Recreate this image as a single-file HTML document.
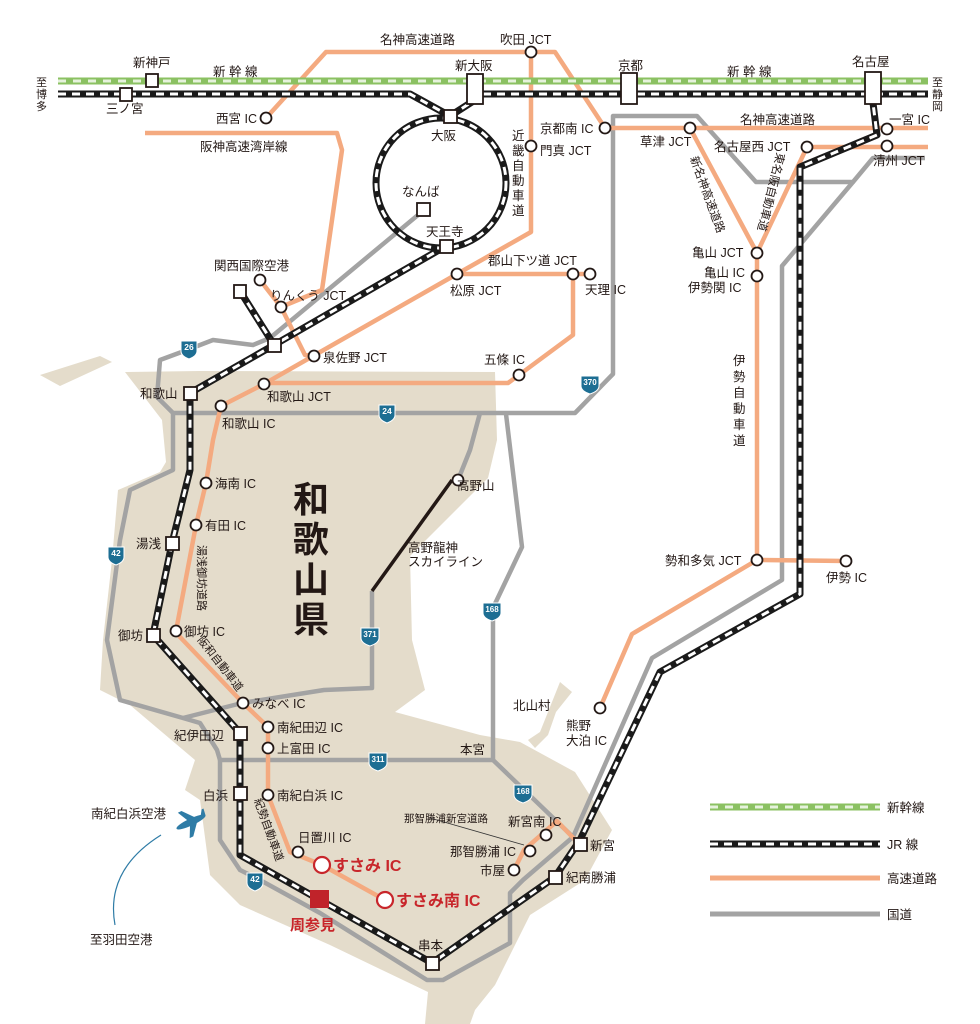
<!DOCTYPE html>
<html><head><meta charset="utf-8"><style>
html,body{margin:0;padding:0;background:#fff;}
svg{display:block;font-size:12.5px;font-family:"Liberation Sans","Noto Sans CJK JP",sans-serif;}
text{fill:#231815;}
</style></head><body>
<svg width="980" height="1024" viewBox="0 0 980 1024" xmlns="http://www.w3.org/2000/svg">
<g fill="#e4dccb">
<path d="M125,372 L200,371 L495,372 L497,440 L488,478 L410,556 L412,640 L425,690 L395,712 L480,735 L520,742 L575,772 L612,830 L585,880 L530,915 L495,985 L475,1010 L470,1024 L425,1024 L428,992 L330,945 L240,905 L210,875 L200,800 L185,790 L195,760 L130,705 L100,690 L103,640 L112,560 L118,490 L160,472 L166,462 L162,420 Z"/>
<path d="M40,375 L100,356 L112,362 L60,386 Z"/>
<path d="M540,732 L560,682 L572,692 L556,712 L548,735 L535,748 L528,740 Z"/>
</g>
<g fill="none" stroke="#a3a3a3" stroke-width="4.5" stroke-linejoin="round">
<path d="M424,210 L270,338 L253,345 L213,340 L187,350 L160,360 L157,397 L173,413 L575,413 L613,374 L613,116 L697,116 L756,182 L853,182 L873,158 L925,158"/>
<path d="M853,182 L782,266 L782,580 L652,658 L573,837 L523,880 L510,893 L510,943 L443,980 L427,980 L320,913 L260,880 L240,870 L220,840 L220,760 L493,760 L573,837"/>
<path d="M173,413 L173,470 L130,490 L120,540 L107,640 L120,700 L183,718 L200,723 L217,750 L220,760"/>
<path d="M183,718 L242,703 L324,690 L372,688 L372,591"/>
<path d="M493,760 L493,608 L522,547 L506,414"/>
<path d="M480,413 L470,450 L458,480"/>
</g>
<g text-anchor="middle">
<g transform="translate(189,348)"><path d="M-8,-7 H8 V3 Q8,8 0,11 Q-8,8 -8,3 Z" fill="#1d6e93" stroke="#fff"/><text y="2" style="fill:#fff;font-size:8.5px;font-weight:bold">26</text></g>
<g transform="translate(387,412)"><path d="M-8,-7 H8 V3 Q8,8 0,11 Q-8,8 -8,3 Z" fill="#1d6e93" stroke="#fff"/><text y="2" style="fill:#fff;font-size:8.5px;font-weight:bold">24</text></g>
<g transform="translate(590,383)"><path d="M-9,-7 H9 V3 Q9,8 0,11 Q-9,8 -9,3 Z" fill="#1d6e93" stroke="#fff"/><text y="2" style="fill:#fff;font-size:8px;font-weight:bold">370</text></g>
<g transform="translate(116,554)"><path d="M-8,-7 H8 V3 Q8,8 0,11 Q-8,8 -8,3 Z" fill="#1d6e93" stroke="#fff"/><text y="2" style="fill:#fff;font-size:8.5px;font-weight:bold">42</text></g>
<g transform="translate(370,635)"><path d="M-9,-7 H9 V3 Q9,8 0,11 Q-9,8 -9,3 Z" fill="#1d6e93" stroke="#fff"/><text y="2" style="fill:#fff;font-size:8px;font-weight:bold">371</text></g>
<g transform="translate(492,610)"><path d="M-9,-7 H9 V3 Q9,8 0,11 Q-9,8 -9,3 Z" fill="#1d6e93" stroke="#fff"/><text y="2" style="fill:#fff;font-size:8px;font-weight:bold">168</text></g>
<g transform="translate(378,760)"><path d="M-9,-7 H9 V3 Q9,8 0,11 Q-9,8 -9,3 Z" fill="#1d6e93" stroke="#fff"/><text y="2" style="fill:#fff;font-size:8px;font-weight:bold">311</text></g>
<g transform="translate(523,792)"><path d="M-9,-7 H9 V3 Q9,8 0,11 Q-9,8 -9,3 Z" fill="#1d6e93" stroke="#fff"/><text y="2" style="fill:#fff;font-size:8px;font-weight:bold">168</text></g>
<g transform="translate(255,880)"><path d="M-8,-7 H8 V3 Q8,8 0,11 Q-8,8 -8,3 Z" fill="#1d6e93" stroke="#fff"/><text y="2" style="fill:#fff;font-size:8.5px;font-weight:bold">42</text></g>
</g>
<g fill="none" stroke="#f4aa80" stroke-width="4.5" stroke-linejoin="round">
<path d="M266,118 L326,52 L555,52 L605,128 L928,128"/>
<path d="M531,52 L531,232 L457,274 L264,384 L221,406 L213,440 L206,483 L196,525 L176,631 L180,637 L243,703 L268,727 L268,795 L290,852 L322,865 L385,900"/>
<path d="M457,274 L590,274"/>
<path d="M573,274 L573,335 L519,375 L508,383 L264,383"/>
<path d="M145,133 L337,133 L342,150 L322,290 L281,307 L260,280"/>
<path d="M281,307 L305,355 L314,356"/>
<path d="M690,128 L757,253 L807,147 L928,147"/>
<path d="M757,253 L757,560 L846,561"/>
<path d="M757,560 L632,634 L600,708"/>
<path d="M514,870 L524,850 L557,821 L580,845"/>
</g>
<line x1="430" y1="818" x2="524" y2="845" stroke="#333" stroke-width="0.8"/>
<line x1="372" y1="591" x2="452" y2="480" stroke="#231815" stroke-width="3.5"/>
<line x1="58" y1="81" x2="928" y2="81" stroke="#8bc162" stroke-width="7"/>
<line x1="58" y1="81" x2="928" y2="81" stroke="#e6f2dc" stroke-width="3" stroke-dasharray="8 7"/>
<g fill="none" stroke-linejoin="round">
<path d="M58,94 L410,94 L450,116 M483,94 L928,94 M450,116 L475,100 M446,246 L274,345 L190,393 L190,470 L172,543 L153,635 L240,733 L240,855 L320,900 L432,963 L555,877 L580,840 L660,672 L800,594 L800,167 L877,135 L873,103 M240,291 L274,345" stroke="#1a1a1a" stroke-width="7"/>
<circle cx="441" cy="183" r="65" stroke="#1a1a1a" stroke-width="7"/>
<path d="M58,94 L410,94 L450,116 M483,94 L928,94 M450,116 L475,100 M446,246 L274,345 L190,393 L190,470 L172,543 L153,635 L240,733 L240,855 L320,900 L432,963 L555,877 L580,840 L660,672 L800,594 L800,167 L877,135 L873,103 M240,291 L274,345" stroke="#fff" stroke-width="3" stroke-dasharray="8 6"/>
<circle cx="441" cy="183" r="65" stroke="#fff" stroke-width="3" stroke-dasharray="8 6"/>
</g>
<g fill="#fff" stroke="#231815" stroke-width="1.8">
<rect x="146" y="74" width="12" height="13"/>
<rect x="120" y="88" width="12" height="13"/>
<rect x="467" y="74" width="16" height="30"/>
<rect x="621" y="73" width="16" height="31"/>
<rect x="865" y="72" width="16" height="32"/>
<rect x="444" y="110" width="13" height="13"/>
<rect x="417" y="203" width="13" height="13"/>
<rect x="440" y="240" width="13" height="13"/>
<rect x="234" y="285" width="12" height="13"/>
<rect x="268" y="339" width="13" height="13"/>
<rect x="184" y="387" width="13" height="13"/>
<rect x="166" y="537" width="13" height="13"/>
<rect x="147" y="629" width="13" height="13"/>
<rect x="234" y="727" width="13" height="13"/>
<rect x="234" y="787" width="13" height="13"/>
<rect x="426" y="957" width="13" height="13"/>
<rect x="549" y="871" width="13" height="13"/>
<rect x="574" y="838" width="13" height="13"/>
</g>
<g fill="#fff" stroke="#231815" stroke-width="1.8">
<circle cx="266" cy="118" r="5.5"/><circle cx="531" cy="52" r="5.5"/><circle cx="531" cy="146" r="5.5"/>
<circle cx="605" cy="128" r="5.5"/><circle cx="690" cy="128" r="5.5"/><circle cx="807" cy="147" r="5.5"/>
<circle cx="887" cy="129" r="5.5"/><circle cx="887" cy="146" r="5.5"/>
<circle cx="757" cy="253" r="5.5"/><circle cx="757" cy="276" r="5.5"/>
<circle cx="457" cy="274" r="5.5"/><circle cx="573" cy="274" r="5.5"/><circle cx="590" cy="274" r="5.5"/>
<circle cx="519" cy="375" r="5.5"/><circle cx="260" cy="280" r="5.5"/><circle cx="281" cy="307" r="5.5"/>
<circle cx="314" cy="356" r="5.5"/><circle cx="264" cy="384" r="5.5"/><circle cx="221" cy="406" r="5.5"/>
<circle cx="206" cy="483" r="5.5"/><circle cx="196" cy="525" r="5.5"/><circle cx="176" cy="631" r="5.5"/>
<circle cx="243" cy="703" r="5.5"/><circle cx="268" cy="727" r="5.5"/><circle cx="268" cy="748" r="5.5"/>
<circle cx="268" cy="795" r="5.5"/><circle cx="298" cy="852" r="5.5"/><circle cx="458" cy="480" r="5.5"/>
<circle cx="757" cy="560" r="5.5"/><circle cx="846" cy="561" r="5.5"/><circle cx="600" cy="708" r="5.5"/>
<circle cx="546" cy="835" r="5.5"/><circle cx="530" cy="851" r="5.5"/><circle cx="514" cy="870" r="5.5"/>
</g>
<g fill="#fff" stroke="#c8262b" stroke-width="2.2">
<circle cx="322" cy="865" r="8"/><circle cx="385" cy="900" r="8"/>
</g>
<rect x="310" y="890" width="19" height="18" fill="#c0232a"/>
<g transform="translate(191,822) rotate(-25)" fill="#2f7ca6">
<ellipse cx="0" cy="0" rx="16" ry="3.5"/>
<path d="M-2,-2 L-8,-14 L-4,-14 L6,-2 Z M-2,2 L-8,14 L-4,14 L6,2 Z M11,-1 L15,-7 L17,-7 L16,0 Z"/>
</g>
<path d="M161,835 Q105,870 115,925" fill="none" stroke="#2f7ca6" stroke-width="1.2"/>
<line x1="710" y1="807" x2="880" y2="807" stroke="#8bc162" stroke-width="7"/>
<line x1="710" y1="807" x2="880" y2="807" stroke="#e6f2dc" stroke-width="3" stroke-dasharray="8 7"/>
<line x1="710" y1="844" x2="880" y2="844" stroke="#1a1a1a" stroke-width="7"/>
<line x1="710" y1="844" x2="880" y2="844" stroke="#fff" stroke-width="3" stroke-dasharray="8 6"/>
<line x1="710" y1="878" x2="880" y2="878" stroke="#f4aa80" stroke-width="5"/>
<line x1="710" y1="914" x2="880" y2="914" stroke="#a3a3a3" stroke-width="5"/>
<text x="887" y="812">新幹線</text><text x="887" y="849">JR 線</text>
<text x="887" y="883">高速道路</text><text x="887" y="919">国道</text>
<text x="133" y="67">新神戸</text>
<text x="213" y="76">新 幹 線</text>
<text x="727" y="76">新 幹 線</text>
<text x="455" y="70">新大阪</text>
<text x="618" y="70">京都</text>
<text x="852" y="66">名古屋</text>
<text x="380" y="44">名神高速道路</text>
<text x="500" y="44">吹田 JCT</text>
<text x="106" y="113">三ノ宮</text>
<text x="216" y="123">西宮 IC</text>
<text x="200" y="151">阪神高速湾岸線</text>
<text x="431" y="140">大阪</text>
<text x="402" y="196">なんば</text>
<text x="426" y="236">天王寺</text>
<text x="540" y="133">京都南 IC</text>
<text x="540" y="155">門真 JCT</text>
<g><text x="512" y="140">近</text><text x="512" y="155">畿</text><text x="512" y="170">自</text><text x="512" y="185">動</text><text x="512" y="200">車</text><text x="512" y="215">道</text></g>
<text x="640" y="146">草津 JCT</text>
<text x="740" y="124">名神高速道路</text>
<text x="714" y="151">名古屋西 JCT</text>
<text x="889" y="124">一宮 IC</text>
<text x="873" y="165">清州 JCT</text>
<text transform="translate(690,158) rotate(70)" font-size="11.5">新名神高速道路</text>
<text transform="translate(777,152) rotate(104)" font-size="11.5">東名阪自動車道</text>
<text x="692" y="257">亀山 JCT</text>
<text x="704" y="277">亀山 IC</text>
<text x="688" y="292">伊勢関 IC</text>
<g><text x="733" y="365">伊</text><text x="733" y="381">勢</text><text x="733" y="397">自</text><text x="733" y="413">動</text><text x="733" y="429">車</text><text x="733" y="445">道</text></g>
<text x="488" y="265">郡山下ツ道 JCT</text>
<text x="450" y="295">松原 JCT</text>
<text x="585" y="294">天理 IC</text>
<text x="484" y="364">五條 IC</text>
<text x="214" y="270">関西国際空港</text>
<text x="270" y="300">りんくう JCT</text>
<text x="323" y="362">泉佐野 JCT</text>
<text x="267" y="401">和歌山 JCT</text>
<text x="140" y="398">和歌山</text>
<text x="222" y="428">和歌山 IC</text>
<text x="215" y="488">海南 IC</text>
<text x="205" y="530">有田 IC</text>
<text x="136" y="548">湯浅</text>
<text x="118" y="640">御坊</text>
<text x="184" y="636">御坊 IC</text>
<text x="252" y="708">みなべ IC</text>
<text x="277" y="732">南紀田辺 IC</text>
<text x="277" y="753">上富田 IC</text>
<text x="174" y="740">紀伊田辺</text>
<text x="203" y="800">白浜</text>
<text x="277" y="800">南紀白浜 IC</text>
<text x="298" y="842">日置川 IC</text>
<text x="91" y="818">南紀白浜空港</text>
<text x="90" y="944">至羽田空港</text>
<text transform="translate(198,545) rotate(90)" font-size="11">湯浅御坊道路</text>
<text transform="translate(197,640) rotate(52)" font-size="11">阪和自動車道</text>
<text transform="translate(254,800) rotate(70)" font-size="11">紀勢自動車道</text>
<g style="font-size:36px;font-weight:bold"><text x="293" y="512">和</text><text x="293" y="552">歌</text><text x="293" y="592">山</text><text x="293" y="632">県</text></g>
<text x="457" y="490">高野山</text>
<text x="408" y="552">高野龍神</text>
<text x="408" y="566">スカイライン</text>
<text x="513" y="710">北山村</text>
<text x="566" y="730">熊野</text>
<text x="566" y="745">大泊 IC</text>
<text x="665" y="565">勢和多気 JCT</text>
<text x="826" y="582">伊勢 IC</text>
<text x="460" y="754">本宮</text>
<text x="404" y="822" font-size="10.5">那智勝浦新宮道路</text>
<text x="508" y="826">新宮南 IC</text>
<text x="450" y="856">那智勝浦 IC</text>
<text x="480" y="875">市屋</text>
<text x="590" y="850">新宮</text>
<text x="566" y="882">紀南勝浦</text>
<text x="418" y="950">串本</text>
<text x="333" y="871" style="fill:#c8262b;font-size:16px;font-weight:bold">すさみ IC</text>
<text x="396" y="906" style="fill:#c8262b;font-size:16px;font-weight:bold">すさみ南 IC</text>
<text x="290" y="930" style="fill:#c8262b;font-size:15px;font-weight:bold">周参見</text>
<g font-size="11"><text x="36" y="86">至</text><text x="36" y="98">博</text><text x="36" y="110">多</text>
<text x="932" y="86">至</text><text x="932" y="98">静</text><text x="932" y="110">岡</text></g>
</svg>
</body></html>
